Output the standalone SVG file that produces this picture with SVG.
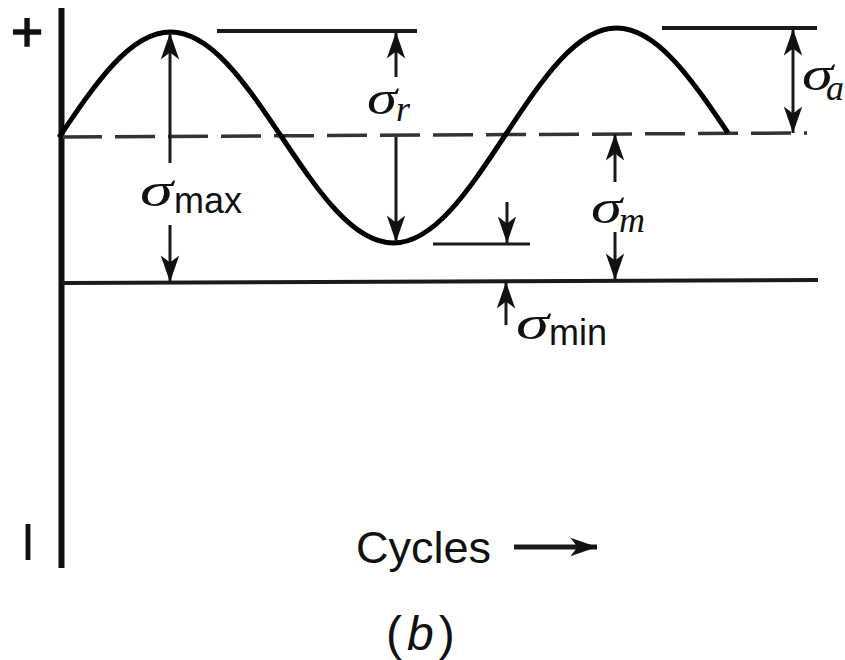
<svg xmlns="http://www.w3.org/2000/svg" width="845" height="660" viewBox="0 0 845 660">
<style>
.ln{stroke:#1a1a1a;stroke-width:4;fill:none;stroke-linecap:butt}
.dim{stroke:#1a1a1a;stroke-width:3;fill:none;marker-end:url(#ah)}
.sig{font-family:"Liberation Serif","DejaVu Serif",serif;font-style:italic;font-size:48px;fill:#111}
.sub{font-family:"Liberation Serif","DejaVu Serif",serif;font-style:italic;font-size:36px;fill:#111}
.subs{font-family:"Liberation Sans","Arial",sans-serif;font-size:36px;fill:#111}
.lab{font-family:"Liberation Sans","Arial",sans-serif;fill:#111}
</style>
<defs>
<marker id="ah" markerUnits="userSpaceOnUse" markerWidth="30" markerHeight="24" viewBox="-24 -10 26 20" refX="0" refY="0" orient="auto-start-reverse">
<path d="M0,0 L-23,-8 L-17,0 L-23,8 Z" fill="#111"/>
</marker>
</defs>
<rect width="845" height="660" fill="#fff"/>
<g id="axes">
<line x1="61.5" y1="8" x2="61.5" y2="568" stroke="#111" stroke-width="6"/>
<text class="lab" x="27" y="51" font-size="55" text-anchor="middle" stroke="#111" stroke-width="1.5">+</text>
<text class="lab" x="28" y="560" font-size="52" text-anchor="middle">I</text>
</g>
<g id="reference-lines">
<line x1="62" y1="137" x2="807" y2="133" stroke="#333" stroke-width="3.5" stroke-dasharray="40 13"/>
<line class="ln" x1="217" y1="31" x2="417" y2="31"/>
<line class="ln" x1="662" y1="28" x2="817" y2="28"/>
<line class="ln" x1="62" y1="283" x2="818" y2="280"/>
<line class="ln" x1="433" y1="244" x2="530" y2="244" style="stroke-width:3"/>
</g>
<g id="curve">
<path d="M59,137.5 C96.3,82.1 130.4,32 170.5,32 C210.6,32 244.7,82.1 282,137.5 C319.3,192.9 353.4,243 393.5,243 C433.6,243 467.7,191.9 505,135.5 C542.3,79.1 576.4,28 616.5,28 C656.6,28 690.7,77.9 728,133" fill="none" stroke="#000" stroke-width="5"/>
</g>
<g id="connectors">
<line class="dim" x1="170" y1="163" x2="170" y2="33"/>
<line class="dim" x1="170" y1="225" x2="170" y2="282"/>
<line class="dim" x1="396" y1="77" x2="396" y2="32"/>
<line class="dim" x1="396" y1="137" x2="396" y2="242"/>
<line class="dim" x1="507" y1="202" x2="507" y2="243"/>
<line class="dim" x1="615" y1="182" x2="615" y2="134"/>
<line class="dim" x1="615" y1="232" x2="615" y2="280"/>
<line class="dim" x1="506" y1="325" x2="506" y2="282"/>
<line class="dim" x1="793" y1="29" x2="793" y2="133" style="marker-start:url(#ah)"/>
<line class="dim" x1="514" y1="547" x2="597" y2="547" style="stroke-width:5"/>
</g>
<g id="label-sigma-max">
<text class="sig" x="140" y="206" textLength="33" lengthAdjust="spacingAndGlyphs">σ</text><text class="subs" x="174" y="213">max</text>
</g>
<g id="label-sigma-r">
<text class="sig" x="367" y="114" textLength="30" lengthAdjust="spacingAndGlyphs">σ</text><text class="sub" x="396" y="121">r</text>
</g>
<g id="label-sigma-a">
<text class="sig" x="802" y="90" textLength="31" lengthAdjust="spacingAndGlyphs">σ</text><text class="sub" x="826" y="100">a</text>
</g>
<g id="label-sigma-m">
<text class="sig" x="591" y="223" textLength="31" lengthAdjust="spacingAndGlyphs">σ</text><text class="sub" x="619" y="232">m</text>
</g>
<g id="label-sigma-min">
<text class="sig" x="516" y="339" textLength="33" lengthAdjust="spacingAndGlyphs">σ</text><text class="subs" x="549" y="345">min</text>
</g>
<g id="label-cycles">
<text class="lab" x="356" y="563" font-size="45">Cycles</text>
</g>
<g id="label-b">
<text class="lab" x="386" y="650" font-size="48" font-family="Liberation Serif" letter-spacing="5">(<tspan font-style="italic">b</tspan>)</text>
</g>
</svg>
